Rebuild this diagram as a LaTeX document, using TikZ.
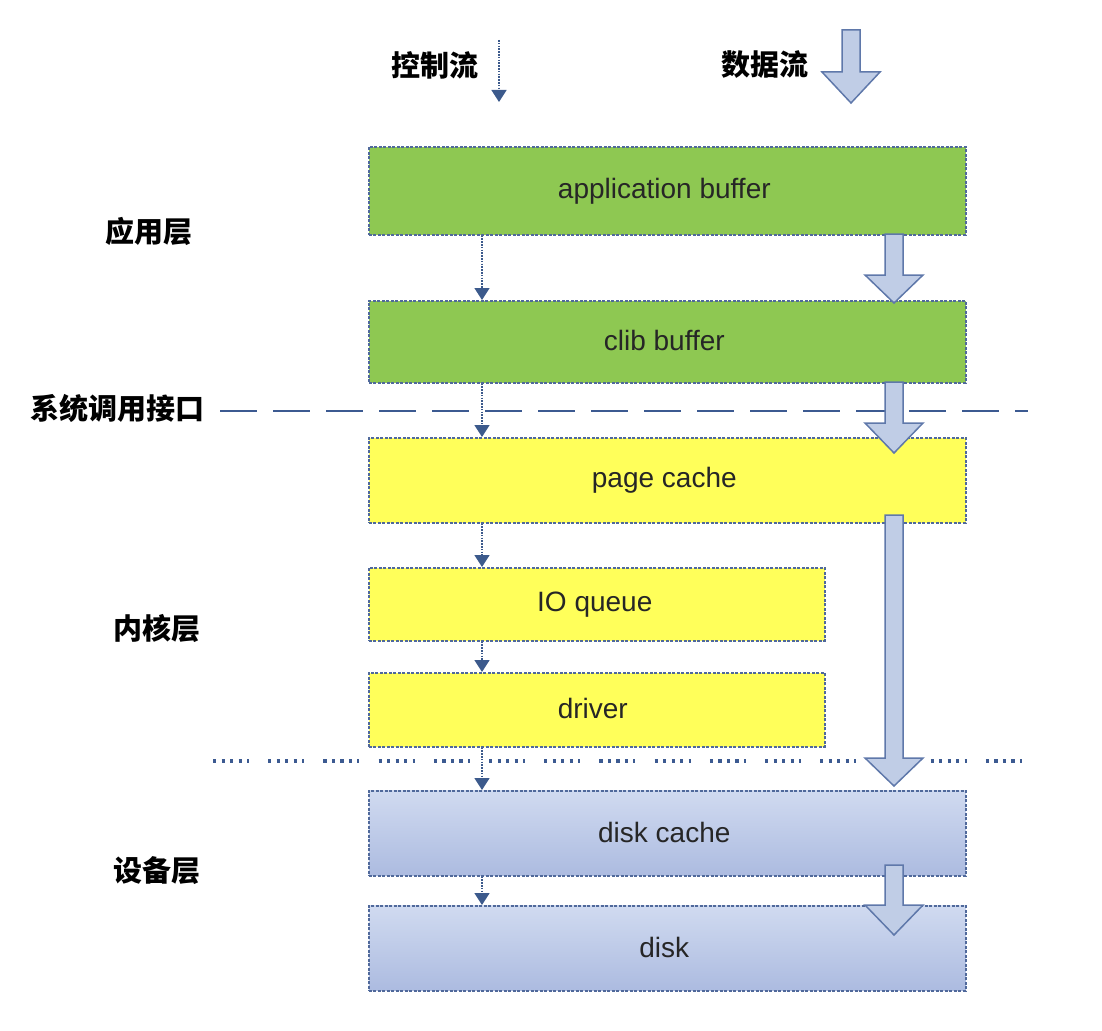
\documentclass[tikz,border=0pt]{standalone}
\usepackage{fontspec}
\setmainfont{Liberation Sans}
\newfontfamily\cjk{Noto Sans CJK SC}
\usetikzlibrary{arrows.meta}
\definecolor{gfill}{RGB}{142,200,82}
\definecolor{yfill}{RGB}{255,255,90}
\definecolor{btop}{RGB}{208,218,240}
\definecolor{bbot}{RGB}{172,187,224}
\definecolor{bordercol}{RGB}{80,105,155}
\definecolor{afill}{RGB}{192,205,230}
\definecolor{adraw}{RGB}{95,120,170}
\definecolor{ctrlcol}{RGB}{60,90,140}
\definecolor{linecol}{RGB}{60,90,145}
\newcommand\dataarrow[4]{%
  \draw[darrow] (#1-9,#2) -- (#1+9,#2) -- (#1+9,#3) -- (#1+29,#3) -- (#1,#4) -- (#1-29,#3) -- (#1-9,#3) -- cycle;}
\tikzset{
  box/.style={draw=bordercol, line width=1.6pt, dash pattern=on 3pt off 1.5pt, inner sep=0pt, anchor=north west,
    font=\fontsize{28}{30}\selectfont, text=black!85},
  gbox/.style={box, fill=gfill},
  ybox/.style={box, fill=yfill},
  bbox/.style={box, top color=btop, bottom color=bbot},
  darrow/.style={fill=afill, draw=adraw, line width=1.5pt, line join=miter},
  ctrl/.style={draw=ctrlcol, line width=1.6pt, dash pattern=on 1.6pt off 1.2pt, -{Triangle[width=15pt,length=12pt]}},
  lbl/.style={font=\cjk\bfseries\fontsize{29}{30}\selectfont, inner sep=0pt},
}
\begin{document}
\begin{tikzpicture}[x=1pt,y=-1pt]
\useasboundingbox (0,0) rectangle (1102,1030);
% layer separators
\draw[linecol, line width=2.4pt, dash pattern=on 37pt off 16pt] (220,411) -- (1028,411);
\draw[linecol, line width=3.2pt, dash pattern=on 3.2pt off 5.3pt on 3.2pt off 5.3pt on 3.2pt off 5.3pt on 3.2pt off 5.3pt on 2pt off 19.2pt] (213,761) -- (1028,761);
% boxes
\node[gbox, minimum width=597, minimum height=88] (app) at (368,146) {\raisebox{2pt}{application buffer}\hspace*{6pt}};
\node[gbox, minimum width=597, minimum height=82] (clib) at (368,300) {\raisebox{2pt}{clib buffer}\hspace*{6pt}};
\node[ybox, minimum width=597, minimum height=85] (page) at (368,437) {\raisebox{2pt}{page cache}\hspace*{6pt}};
\node[ybox, minimum width=456, minimum height=73] (ioq) at (368,567) {\raisebox{2pt}{IO queue}\hspace*{4pt}};
\node[ybox, minimum width=456, minimum height=74] (drv) at (368,672) {\raisebox{2pt}{driver}\hspace*{8pt}};
\node[bbox, minimum width=597, minimum height=85] (dcache) at (368,790) {\raisebox{2pt}{disk cache}\hspace*{6pt}};
\node[bbox, minimum width=597, minimum height=85] (disk) at (368,905) {\raisebox{2pt}{disk}\hspace*{6pt}};
% control flow
\coordinate (cx) at (482,0);
\draw[ctrl] (app.south -| cx) -- (clib.north -| cx);
\draw[ctrl] (clib.south -| cx) -- (page.north -| cx);
\draw[ctrl] (page.south -| cx) -- (ioq.north -| cx);
\draw[ctrl] (ioq.south -| cx) -- (drv.north -| cx);
\draw[ctrl] (drv.south -| cx) -- (dcache.north -| cx);
\draw[ctrl] (dcache.south -| cx) -- (disk.north -| cx);
% data flow
\dataarrow{894}{234}{275}{303}
\dataarrow{894}{382}{423}{453}
\dataarrow{894}{515}{758}{786}
\dataarrow{894}{865}{905}{935}
% legend
\node[lbl] (lctrl) at (435,65) {控制流};
\coordinate (lc1) at (499,40);
\coordinate (lc2) at (499,102);
\draw[ctrl] (lc1) -- (lc2);
\node[lbl] (ldata) at (765,65) {数据流};
\dataarrow{851}{30}{72}{103}
% side labels
\node[lbl] (l1) at (149,231) {应用层};
\node[lbl] (l2) at (117,408) {系统调用接口};
\node[lbl] (l3) at (157,628) {内核层};
\node[lbl] (l4) at (157,871) {设备层};
\end{tikzpicture}
\end{document}
